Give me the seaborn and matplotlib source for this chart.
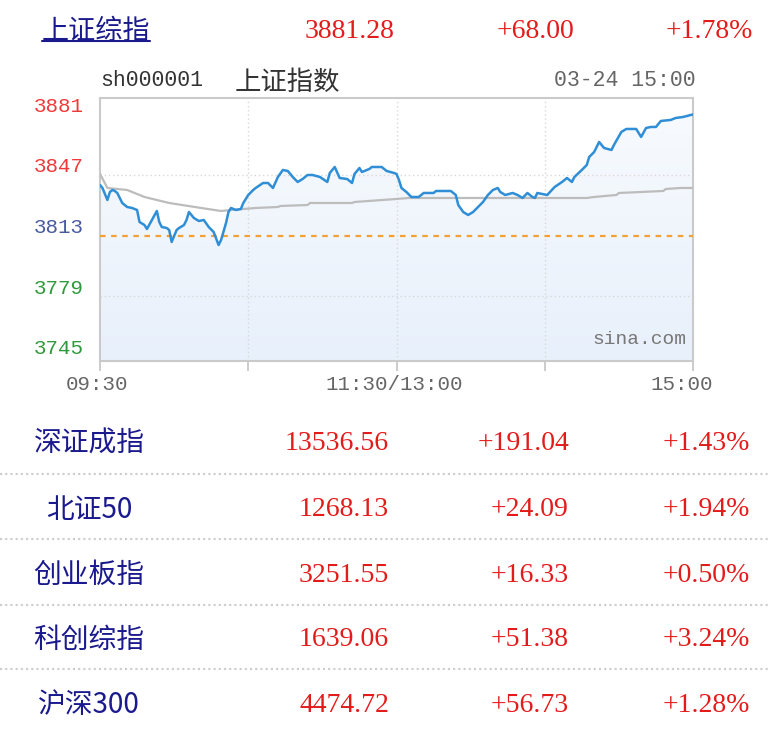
import numpy as np
import pandas as pd
import matplotlib.pyplot as plt
import seaborn as sns
from matplotlib.lines import Line2D
from matplotlib.colors import LinearSegmentedColormap

sns.set_style('white')
plt.rcParams['font.family'] = ['Noto Sans CJK SC', 'DejaVu Sans']

# Header index
head_name = '上证综指'
head_value = '3881.28'
head_change = '+68.00'
head_pct = '+1.78%'

code = 'sh000001'
chart_title = '上证指数'
stamp = '03-24 15:00'
prev_close = 3813.28

# Intraday price (minutes after 09:30, lunch break removed)
minutes = [0, 1, 3, 4, 5, 6, 7, 9, 11, 13, 15, 16, 18, 19, 21, 23, 24, 25, 27, 28,
           29, 31, 32, 34, 35, 36, 38, 40, 42, 44, 46, 48, 49, 51, 52, 53, 55, 57, 58, 60,
           62, 63, 66, 68, 70, 72, 74, 76, 78, 80, 82, 84, 86, 89, 92, 93, 95, 97, 100, 102,
           103, 105, 106, 109, 110, 114, 116, 119, 120, 121, 122, 124, 126, 129, 131, 135, 136, 142, 144, 145,
           147, 149, 151, 153, 155, 157, 159, 161, 162, 164, 167, 169, 171, 173, 175, 176, 177, 179, 181, 184,
           187, 189, 191, 192, 195, 197, 198, 200, 202, 204, 207, 208, 211, 213, 217, 218, 219, 221, 223, 225,
           227, 231, 233, 236, 240]
prices = [3841.65, 3839.97, 3833.22, 3837.72, 3838.84, 3838.28, 3837.16, 3831.54, 3829.29, 3828.73,
          3827.61, 3820.86, 3819.18, 3816.93, 3821.99, 3827.04, 3820.86, 3818.06, 3817.49, 3816.37,
          3809.63, 3816.37, 3817.49, 3819.18, 3821.99, 3826.48, 3823.11, 3821.43, 3821.99, 3818.06,
          3815.25, 3807.94, 3810.75, 3820.30, 3826.48, 3828.73, 3827.61, 3828.17, 3831.54, 3836.03,
          3838.84, 3839.97, 3842.77, 3842.77, 3839.97, 3846.15, 3850.08, 3849.52, 3846.15, 3843.34,
          3845.02, 3847.27, 3847.27, 3846.15, 3843.34, 3848.39, 3851.76, 3845.58, 3845.02, 3842.77,
          3847.83, 3851.20, 3848.95, 3850.64, 3851.76, 3851.76, 3849.52, 3848.39, 3847.83, 3844.46,
          3839.97, 3837.72, 3834.91, 3834.91, 3837.16, 3837.16, 3838.28, 3838.28, 3836.03, 3830.41,
          3826.48, 3824.80, 3826.48, 3829.29, 3832.10, 3836.03, 3838.84, 3839.97, 3837.72, 3836.03,
          3837.16, 3836.03, 3834.35, 3837.16, 3834.91, 3834.35, 3837.16, 3836.59, 3836.03, 3840.53,
          3843.34, 3845.58, 3843.34, 3846.15, 3850.08, 3852.89, 3857.38, 3860.19, 3865.81, 3862.44,
          3861.31, 3864.12, 3871.43, 3873.11, 3873.11, 3870.86, 3868.62, 3873.67, 3874.24, 3874.24,
          3877.61, 3878.17, 3879.29, 3879.85, 3881.28]

# Average price line
avg_minutes = [0, 3, 11, 18, 28, 41, 49, 53, 63, 72, 73, 84, 85, 102, 103, 120, 125,
               197, 200, 209, 210, 219, 228, 229, 235, 240]
avg_prices = [3847.83, 3839.97, 3838.84, 3834.91, 3831.54, 3828.73, 3827.04, 3827.61, 3828.73,
              3829.29, 3829.85, 3830.41, 3831.54, 3831.54, 3832.10, 3833.79, 3834.35,
              3834.35, 3834.91, 3836.03, 3837.16, 3837.72, 3838.28, 3839.40, 3839.97, 3839.97]

ytick_values = [3881.28, 3847.28, 3813.28, 3779.28, 3745.28]
ytick_labels = ['3881', '3847', '3813', '3779', '3745']
xtick_values = [0, 60, 120, 180, 240]
xtick_labels = ['09:30', '11:30/13:00', '15:00']
xlabel_pos = [0, 120, 240]

# Other indices
names = ['深证成指', '北证50', '创业板指', '科创综指', '沪深300']
values = ['13536.56', '1268.13', '3251.55', '1639.06', '4474.72']
changes = ['+191.04', '+24.09', '+16.33', '+51.38', '+56.73']
pcts = ['+1.43%', '+1.94%', '+0.50%', '+3.24%', '+1.28%']

W, H = 769, 746
fig = plt.figure(figsize=(W / 100, H / 100), dpi=100)


def fx(px):
    return px / W


def fy(py):
    return 1 - py / H


RED = '#e31b1b'
NAVY = '#1a1a8e'
MONO = 'Liberation Mono'
SERIF = 'Liberation Serif'

# ---- chart ----
ax = fig.add_axes([fx(100), fy(361), (693 - 100) / W, (361 - 98) / H])
df = pd.DataFrame({'minute': minutes, 'price': prices})
avg_df = pd.DataFrame({'minute': avg_minutes, 'price': avg_prices})

y_lo, y_hi = 3742.8, 3890.5

fill = ax.fill_between(df['minute'], df['price'], y_lo, color='none', lw=0)
grad = np.linspace(0, 1, 256).reshape(-1, 1)
cmap = LinearSegmentedColormap.from_list('bluefill', ['#e8f0fb', '#f8fbfe'])
img = ax.imshow(grad, extent=[0, 240, y_lo, y_hi], origin='lower', aspect='auto',
                cmap=cmap, zorder=1)
img.set_clip_path(fill.get_paths()[0], ax.transData)

for m in (60, 120, 180):
    ax.axvline(m, color='#d8d8d8', ls=(0, (1, 2)), lw=1, zorder=2)
for v in (ytick_values[1], ytick_values[3]):
    ax.axhline(v, color='#d8d8d8', ls=(0, (1, 2)), lw=1, zorder=2)
ax.axhline(prev_close, color='#f5a032', ls=(0, (2.5, 2.5)), lw=1.6, zorder=3)

sns.lineplot(data=avg_df, x='minute', y='price', ax=ax, color='#bcbcbc', lw=1.6, zorder=4)
sns.lineplot(data=df, x='minute', y='price', ax=ax, color='#2f8ed6', lw=1.8, zorder=5)

ax.set_xlim(0, 240)
ax.set_ylim(y_lo, y_hi)
ax.set_xlabel('')
ax.set_ylabel('')
ax.set_yticks([])
ax.set_xticks(xtick_values, labels=[''] * len(xtick_values))
ax.tick_params(axis='x', length=7, width=1.2, color='#c4c4c4', direction='out', bottom=True)
for s in ax.spines.values():
    s.set_color('#cacaca')
    s.set_linewidth(1.5)

ycolors = ['#f03a3a', '#f03a3a', '#4a5aa0', '#2e9a3a', '#2e9a3a']
for v, lab, c in zip(ytick_values, ytick_labels, ycolors):
    ax.annotate(lab, xy=(0, v), xycoords=('axes fraction', 'data'), xytext=(-16, 8),
                textcoords='offset pixels', ha='right', va='center',
                family=MONO, fontsize=15, color=c)

for pos, lab, dx in zip(xlabel_pos, xtick_labels, (-3, -2, -11)):
    ax.annotate(lab, xy=(pos, 0), xycoords=('data', 'axes fraction'), xytext=(dx, -24),
                textcoords='offset pixels', ha='center', va='center',
                family=MONO, fontsize=15, color='#666666')

ax.annotate('sina.com', xy=(1, 0), xycoords='axes fraction', xytext=(-7, 21),
            textcoords='offset pixels', ha='right', va='center',
            family=MONO, fontsize=14, color='#777777')

fig.text(fx(100), fy(80), code, family=MONO, fontsize=15.5, color='#333333', va='center')
fig.text(fx(235), fy(82), chart_title, fontsize=19, color='#333333', va='center')
fig.text(fx(696), fy(80), stamp, family=MONO, fontsize=15.5, color='#666666',
         ha='right', va='center')

# ---- header row ----
fig.text(fx(96), fy(31), head_name, fontsize=19.5, color=NAVY, ha='center', va='center')
fig.add_artist(Line2D([fx(42), fx(150)], [fy(41), fy(41)], color=NAVY, lw=1.5))
for txt, xr in zip((head_value, head_change, head_pct), (394, 574, 753)):
    fig.text(fx(xr), fy(31), txt, family=SERIF, fontsize=20, color=RED, ha='right', va='center')

# ---- table rows ----
row_y = [444, 510, 575, 640, 705]
for i, y in enumerate(row_y):
    fig.text(fx(89), fy(y), names[i], fontsize=20, color=NAVY, ha='center', va='center')
    for txt, xr in zip((values[i], changes[i], pcts[i]), (389, 569, 750)):
        fig.text(fx(xr), fy(y), txt, family=SERIF, fontsize=20, color=RED, ha='right', va='center')

for y in (474, 539, 605, 669):
    fig.add_artist(Line2D([0, 1], [fy(y), fy(y)], color='#cccccc', lw=1.5, ls=(0, (1, 1.5))))

fig.savefig('out.png', dpi=100)
